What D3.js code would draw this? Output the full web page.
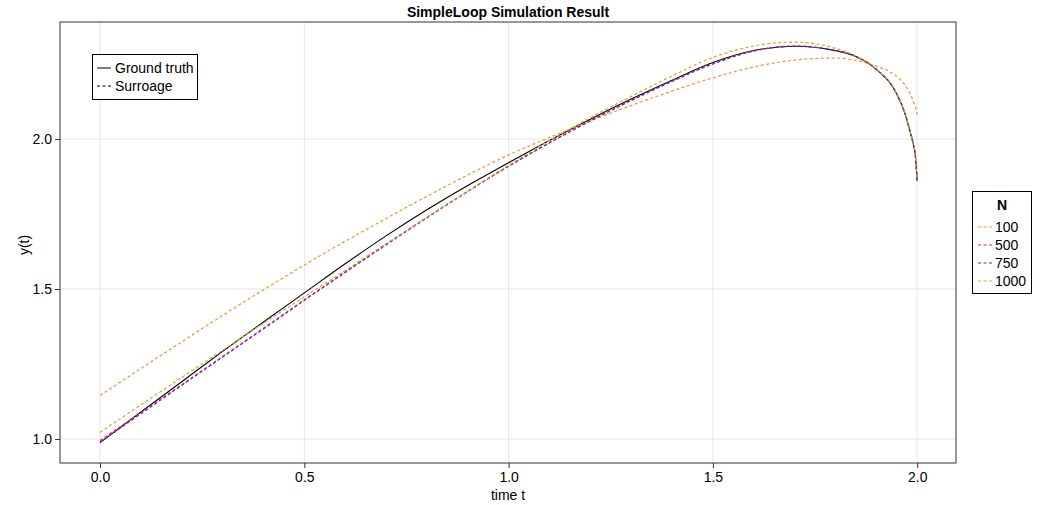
<!DOCTYPE html>
<html>
<head>
<meta charset="UTF-8">
<title>SimpleLoop Simulation Result</title>
<script src="https://cdn.jsdelivr.net/npm/d3@7"></script>
<style>
  body { margin: 0; background: #fff; }
  svg text { font-family: "Liberation Sans", Arial, sans-serif; fill: #000; }
</style>
</head>
<body>
<svg id="chart" width="1040" height="505"></svg>
<script>
// time grid shared by every series
var tVals = [0, 0.1, 0.2, 0.3, 0.4, 0.5, 0.6, 0.7, 0.8, 0.9, 1.0, 1.1, 1.2, 1.3, 1.4,
             1.5, 1.6, 1.7, 1.8, 1.85, 1.9, 1.95, 1.97, 1.98, 1.99, 1.995, 2.0];

var groundTruth = [0.988, 1.090, 1.191, 1.292, 1.390, 1.487, 1.584, 1.677, 1.764, 1.845, 1.921,
                   1.995, 2.066, 2.133, 2.196, 2.255, 2.295, 2.309, 2.294, 2.275, 2.232, 2.150,
                   2.085, 2.038, 1.985, 1.950, 1.860];
var surr100 = [1.145, 1.235, 1.324, 1.412, 1.497, 1.580, 1.659, 1.735, 1.809, 1.880, 1.947,
               2.005, 2.060, 2.112, 2.160, 2.204, 2.240, 2.263, 2.270, 2.262, 2.243, 2.208,
               2.180, 2.158, 2.128, 2.110, 2.080];
var surr500 = [0.995, 1.088, 1.181, 1.275, 1.369, 1.464, 1.557, 1.649, 1.739, 1.826, 1.910,
               1.988, 2.061, 2.129, 2.193, 2.251, 2.294, 2.310, 2.296, 2.276, 2.233, 2.151,
               2.086, 2.039, 1.986, 1.951, 1.860];
var surr750 = [0.990, 1.084, 1.179, 1.273, 1.367, 1.462, 1.555, 1.647, 1.737, 1.825, 1.909,
               1.987, 2.060, 2.128, 2.192, 2.250, 2.293, 2.309, 2.295, 2.275, 2.232, 2.150,
               2.085, 2.038, 1.985, 1.950, 1.860];
var surr1000 = [1.022, 1.114, 1.205, 1.296, 1.386, 1.474, 1.562, 1.651, 1.739, 1.826, 1.912,
                1.995, 2.071, 2.142, 2.210, 2.272, 2.310, 2.323, 2.302, 2.277, 2.233, 2.151,
                2.086, 2.039, 1.986, 1.951, 1.860];

var nLabels = ["100", "500", "750", "1000"];
var nColors = ["#ef942f", "#de2279", "#76299c", "#b5b522"];
var xTicks = [0.0, 0.5, 1.0, 1.5, 2.0];
var yTicks = [1.0, 1.5, 2.0];

var svg = d3.select("#chart");
var plotLeft = 60, plotRight = 956, plotTop = 22, plotBottom = 463;

var x = d3.scaleLinear().domain([-0.098, 2.095]).range([plotLeft, plotRight]);
var y = d3.scaleLinear().domain([0.92, 2.39]).range([plotBottom, plotTop]);

// grid
svg.append("g").selectAll("line").data(xTicks).enter().append("line")
    .attr("x1", d => x(d)).attr("x2", d => x(d))
    .attr("y1", plotTop).attr("y2", plotBottom)
    .attr("stroke", "#e6e6e6").attr("stroke-width", 1);
svg.append("g").selectAll("line").data(yTicks).enter().append("line")
    .attr("x1", plotLeft).attr("x2", plotRight)
    .attr("y1", d => y(d)).attr("y2", d => y(d))
    .attr("stroke", "#e6e6e6").attr("stroke-width", 1);

// lines
var line = d3.line()
    .x((d, i) => x(tVals[i]))
    .y(d => y(d))
    .curve(d3.curveMonotoneX);

var plot = svg.append("g");
plot.append("path").datum(groundTruth)
    .attr("d", line).attr("fill", "none")
    .attr("stroke", "#000").attr("stroke-width", 1.1);

var surrogates = [surr100, surr500, surr750, surr1000];
surrogates.forEach(function (s, i) {
    plot.append("path").datum(s)
        .attr("d", line).attr("fill", "none")
        .attr("stroke", nColors[i]).attr("stroke-width", 1.2)
        .attr("stroke-dasharray", "3,2.5");
});

// frame
svg.append("rect").attr("x", plotLeft).attr("y", plotTop)
    .attr("width", plotRight - plotLeft).attr("height", plotBottom - plotTop)
    .attr("fill", "none").attr("stroke", "#333").attr("stroke-width", 1);

// axes
var xAxis = d3.axisBottom(x).tickValues(xTicks).tickFormat(d3.format(".1f")).tickSizeOuter(0).tickSize(5).tickPadding(4);
var gx = svg.append("g").attr("transform", "translate(0," + plotBottom + ")").call(xAxis);
var yAxis = d3.axisLeft(y).tickValues(yTicks).tickFormat(d3.format(".1f")).tickSizeOuter(0).tickSize(5).tickPadding(3);
var gy = svg.append("g").attr("transform", "translate(" + plotLeft + ",0)").call(yAxis);
[gx, gy].forEach(function (g) {
    g.select(".domain").remove();
    g.selectAll(".tick line").attr("stroke", "#333");
    g.selectAll(".tick text").style("font-size", "14px")
        .style("font-family", "'Liberation Sans', Arial, sans-serif");
});

// titles
svg.append("text").attr("x", 508).attr("y", 17).attr("text-anchor", "middle")
    .style("font-size", "14px").style("font-weight", "bold")
    .text("SimpleLoop Simulation Result");
svg.append("text").attr("x", 508).attr("y", 500).attr("text-anchor", "middle")
    .style("font-size", "14px").text("time t");
svg.append("text").attr("transform", "translate(29,245) rotate(-90)")
    .attr("text-anchor", "middle").style("font-size", "14px").text("y(t)");

// legend: line styles
var lg = svg.append("g");
lg.append("rect").attr("x", 92.5).attr("y", 54.5).attr("width", 105).attr("height", 45)
    .attr("fill", "#fff").attr("stroke", "#000").attr("stroke-width", 1);
var styleItems = [{label: "Ground truth", dash: null}, {label: "Surroage", dash: "3,2.5"}];
styleItems.forEach(function (d, i) {
    var yy = 68 + i * 18;
    lg.append("line").attr("x1", 97).attr("x2", 111).attr("y1", yy).attr("y2", yy)
        .attr("stroke", "#000").attr("stroke-width", 1)
        .attr("stroke-dasharray", d.dash);
    lg.append("text").attr("x", 115).attr("y", yy + 5)
        .style("font-size", "14px").text(d.label);
});

// legend: N
var ng = svg.append("g");
ng.append("rect").attr("x", 972.5).attr("y", 191.5).attr("width", 59).attr("height", 102)
    .attr("fill", "#fff").attr("stroke", "#000").attr("stroke-width", 1);
ng.append("text").attr("x", 1002).attr("y", 210).attr("text-anchor", "middle")
    .style("font-size", "14px").style("font-weight", "bold").text("N");
nLabels.forEach(function (lab, i) {
    var yy = 227 + i * 18;
    ng.append("line").attr("x1", 978).attr("x2", 992).attr("y1", yy).attr("y2", yy)
        .attr("stroke", nColors[i]).attr("stroke-width", 1.2)
        .attr("stroke-dasharray", "3,2.5");
    ng.append("text").attr("x", 995).attr("y", yy + 5)
        .style("font-size", "14px").text(lab);
});
</script>
</body>
</html>
